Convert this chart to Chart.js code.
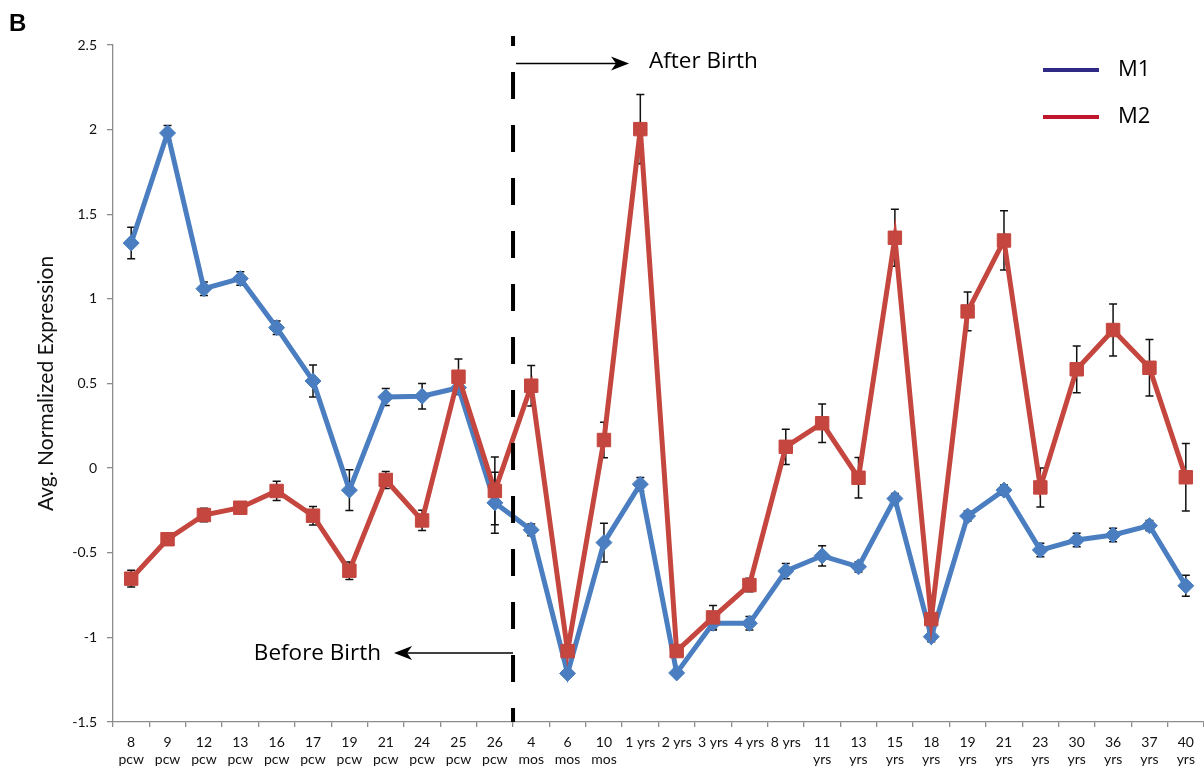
<!DOCTYPE html>
<html>
<head>
<meta charset="utf-8">
<script src="https://cdn.jsdelivr.net/npm/chart.js@4.4.1/dist/chart.umd.min.js"></script>
<style>
  html, body { margin: 0; padding: 0; background: #fff; }
  #wrap { position: relative; width: 1204px; height: 769px; }
</style>
</head>
<body>
<div id="wrap"><canvas id="c"></canvas></div>
<script>
// ---------- DATA ----------
const categories = [
  ["8","pcw"],["9","pcw"],["12","pcw"],["13","pcw"],["16","pcw"],["17","pcw"],["19","pcw"],
  ["21","pcw"],["24","pcw"],["25","pcw"],["26","pcw"],
  ["4","mos"],["6","mos"],["10","mos"],
  "1 yrs","2 yrs","3 yrs","4 yrs","8 yrs",
  ["11","yrs"],["13","yrs"],["15","yrs"],["18","yrs"],["19","yrs"],["21","yrs"],
  ["23","yrs"],["30","yrs"],["36","yrs"],["37","yrs"],["40","yrs"]
];
const m1Values = [1.33, 1.98, 1.06, 1.12, 0.83, 0.515, -0.13, 0.42, 0.425, 0.475, -0.205,
  -0.365, -1.213, -0.44, -0.095, -1.21, -0.917, -0.917, -0.608, -0.518, -0.583, -0.18,
  -0.996, -0.283, -0.13, -0.484, -0.425, -0.395, -0.34, -0.695];
const m1Errors = [0.093, 0.045, 0.04, 0.04, 0.04, 0.095, 0.12, 0.05, 0.075, 0.02, 0.18,
  0.035, 0.02, 0.115, 0.04, 0.02, 0.04, 0.04, 0.045, 0.06, 0.03, 0.03, 0.03, 0.03, 0.03,
  0.04, 0.04, 0.04, 0.03, 0.062];
const m2Values = [-0.653, -0.42, -0.277, -0.234, -0.135, -0.281, -0.606, -0.07, -0.309, 0.54,
  -0.135, 0.487, -1.081, 0.166, 2.003, -1.081, -0.882, -0.691, 0.126, 0.265, -0.057, 1.361,
  -0.892, 0.926, 1.345, -0.114, 0.584, 0.816, 0.593, -0.054];
const m2Errors = [0.05, 0.02, 0.04, 0.02, 0.057, 0.055, 0.052, 0.05, 0.06, 0.105, 0.2,
  0.12, 0.02, 0.105, 0.205, 0.02, 0.07, 0.04, 0.104, 0.114, 0.12, 0.168, 0.03, 0.115, 0.175,
  0.115, 0.138, 0.154, 0.167, 0.2];
const yTickValues = [2.5, 2, 1.5, 1, 0.5, 0, -0.5, -1, -1.5];
const yTickLabels = ["2.5", "2", "1.5", "1", "0.5", "0", "-0.5", "-1", "-1.5"];
const seriesNames = ["M1", "M2"];
const legendColors = ["#2E2A86", "#C1172D"];
const birthBoundaryIndex = 10.5;   // between "26 pcw" and "4 mos"
const afterBirthLabel = "After Birth";
const beforeBirthLabel = "Before Birth";
const afterBirthY = 2.39;
const beforeBirthY = -1.093;
const panelLetter = "B";
const yTitle = "Avg. Normalized Expression";

// ---------- PLUGINS ----------
const errorBarPlugin = {
  id: 'errorBars',
  beforeDatasetsDraw(chart) {
    const ctx = chart.ctx;
    const x = chart.scales.x, y = chart.scales.y;
    const sets = [[m1Values, m1Errors], [m2Values, m2Errors]];
    ctx.save();
    ctx.strokeStyle = '#111';
    ctx.lineWidth = 1.5;
    sets.forEach(([vals, errs]) => {
      vals.forEach((v, i) => {
        const px = x.getPixelForValue(i);
        const yt = y.getPixelForValue(v + errs[i]);
        const yb = y.getPixelForValue(v - errs[i]);
        ctx.beginPath();
        ctx.moveTo(px, yt); ctx.lineTo(px, yb);
        ctx.moveTo(px - 4, yt); ctx.lineTo(px + 4, yt);
        ctx.moveTo(px - 4, yb); ctx.lineTo(px + 4, yb);
        ctx.stroke();
      });
    });
    ctx.restore();
  }
};

function arrow(ctx, x0, y0, x1, y1) {
  const dir = Math.sign(x1 - x0);
  ctx.beginPath();
  ctx.moveTo(x0, y0); ctx.lineTo(x1 - dir * 10, y1);
  ctx.stroke();
  ctx.beginPath();
  ctx.moveTo(x1, y1);
  ctx.lineTo(x1 - dir * 18, y1 - 7);
  ctx.lineTo(x1 - dir * 13, y1);
  ctx.lineTo(x1 - dir * 18, y1 + 7);
  ctx.closePath();
  ctx.fill();
}

const annotationPlugin = {
  id: 'annotations',
  afterDraw(chart) {
    const ctx = chart.ctx;
    const x = chart.scales.x, y = chart.scales.y;
    const ca = chart.chartArea;
    const bx = (x.getPixelForValue(Math.floor(birthBoundaryIndex)) + x.getPixelForValue(Math.ceil(birthBoundaryIndex))) / 2;
    ctx.save();
    // dashed birth line
    ctx.strokeStyle = '#000';
    ctx.lineWidth = 4;
    ctx.setLineDash([27, 26]);
    ctx.lineDashOffset = 17;
    ctx.beginPath();
    ctx.moveTo(bx, ca.top - 9);
    ctx.lineTo(bx, ca.bottom);
    ctx.stroke();
    ctx.setLineDash([]);
    // arrows
    ctx.lineWidth = 1.5;
    ctx.fillStyle = '#000';
    const ya = y.getPixelForValue(afterBirthY);
    arrow(ctx, bx + 3, ya, bx + 116, ya);
    const yb = y.getPixelForValue(beforeBirthY);
    arrow(ctx, bx, yb, bx - 119, yb);
    // texts
    ctx.font = '22.5px "Open Sans"';
    ctx.textBaseline = 'middle';
    ctx.textAlign = 'left';
    ctx.fillText(afterBirthLabel, bx + 136, ya - 2);
    ctx.textAlign = 'right';
    ctx.fillText(beforeBirthLabel, bx - 132, yb);
    // legend
    ctx.lineWidth = 4;
    ctx.textAlign = 'left';
    ctx.font = '22px "Open Sans"';
    seriesNames.forEach((n, i) => {
      const ly = 70 + i * 47;
      ctx.strokeStyle = legendColors[i];
      ctx.beginPath();
      ctx.moveTo(1043, ly); ctx.lineTo(1099, ly);
      ctx.stroke();
      ctx.fillStyle = '#000';
      ctx.fillText(n, 1118, ly);
    });
    // panel letter
    ctx.font = 'bold 24px "Liberation Sans"';
    ctx.textAlign = 'left';
    ctx.textBaseline = 'alphabetic';
    ctx.fillText(panelLetter, 9, 31);
    ctx.restore();
  }
};

// ---------- CHART ----------
const tickFont = { family: 'Lato', size: 14, lineHeight: 1.2 };
new Chart(document.getElementById('c'), {
  type: 'line',
  data: {
    labels: categories,
    datasets: [
      {
        label: seriesNames[0], data: m1Values, order: 1,
        borderColor: '#4A7EC0', backgroundColor: '#4A7EC0', borderWidth: 5,
        pointStyle: 'rectRot', pointRadius: 8, pointBorderWidth: 1, tension: 0
      },
      {
        label: seriesNames[1], data: m2Values, order: 0,
        borderColor: '#C4463F', backgroundColor: '#C4463F', borderWidth: 5,
        pointStyle: 'rect', pointRadius: 9.5, pointBorderWidth: 1, tension: 0
      }
    ]
  },
  options: {
    responsive: true,
    maintainAspectRatio: false,
    animation: false,
    layout: { autoPadding: false, padding: { top: 45, right: 0, bottom: 0, left: 0 } },
    plugins: { legend: { display: false }, tooltip: { enabled: false } },
    scales: {
      x: {
        type: 'category',
        offset: true,
        afterFit(s) { s.height = 47; },
        grid: { display: true, drawOnChartArea: false, drawTicks: true, tickLength: 5, offset: true, color: '#8c8c8c', lineWidth: 1.3 },
        border: { display: true, color: '#8c8c8c', width: 1.3 },
        ticks: { color: '#111', font: tickFont, padding: 7, maxRotation: 0, autoSkip: false }
      },
      y: {
        min: -1.5, max: 2.5,
        afterFit(s) { s.width = 113; },
        afterBuildTicks(s) { s.ticks = yTickValues.map(v => ({ value: v })); },
        grid: { display: true, drawOnChartArea: false, drawTicks: true, tickLength: 6, color: '#8c8c8c', lineWidth: 1.3 },
        border: { display: true, color: '#8c8c8c', width: 1.3 },
        ticks: {
          color: '#111', font: tickFont, padding: 10,
          callback(v) { const i = yTickValues.indexOf(v); return i >= 0 ? yTickLabels[i] : ''; }
        },
        title: { display: true, text: yTitle, color: '#111', font: { family: 'Lato', size: 21, lineHeight: 1.2 }, padding: { top: 34, bottom: 0 } }
      }
    }
  },
  plugins: [errorBarPlugin, annotationPlugin]
});
</script>
</body>
</html>
